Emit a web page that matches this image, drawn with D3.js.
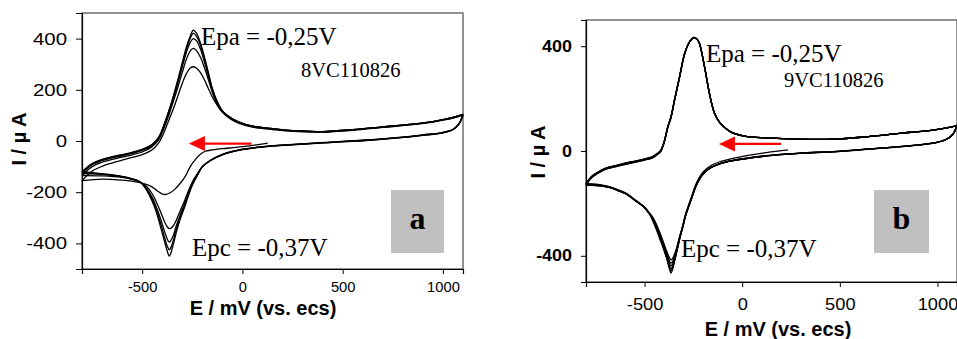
<!DOCTYPE html>
<html><head><meta charset="utf-8">
<script src="https://cdn.jsdelivr.net/npm/d3@7"></script>
<style>
html,body{margin:0;padding:0;background:#fff;}
svg{display:block;}
</style></head><body>
<svg id="chart" width="957" height="339"></svg>
<script>
// ---------- axes ----------
const xTicks = [-500, 0, 500, 1000];
const yTicksA = [-400, -200, 0, 200, 400];
const yTicksB = [-400, 0, 400];
const xTitle = "E / mV (vs. ecs)";
const yTitle = "I / \u00b5 A";

// ---------- panel a : 8VC110826 ----------
// potential grids (mV)
const aStartE = [126,50,0,-50,-100,-150,-185,-210,-235,-260,-285,-310,-335,-360,-385,-400,-418,-435,-451,-476,-510,-550,-600,-700,-800];
const aUpE = [-800,-750,-700,-650,-600,-550,-500,-450,-420,-400,-380,-360,-340,-320,-300,-280,-260,-245,-230,-210,-190,-170,-150,-130,-100,-60,-20,50,150,250,400,550,700,850,950,1050,1100];
const aDownE = [1100,1080,1050,1000,900,750,600,420,250,100,0,-100,-160,-200,-225,-250,-270,-290,-310,-330,-345,-358,-365,-375,-387,-405,-428,-450,-478,-510,-550,-600,-700,-800];
// currents (µA)
const aScan0 = [-8,-17,-22,-26,-30,-35,-40,-52,-73,-100,-138,-165,-187,-202,-209,-207,-198,-188,-179,-170,-163,-157,-153,-149,-155];
const aUp1 = [-155,-118,-99,-86,-75,-64,-53,-34,-10,18,55,95,135,180,225,262,285,290,285,268,240,205,172,145,112,86,70,54,45,38,35,42,53,64,74,89,101];
const aDown1 = [101,66,44,32,22,10,1,-7,-15,-24,-34,-54,-77,-100,-128,-160,-196,-236,-272,-310,-332,-341,-342,-335,-318,-283,-240,-206,-178,-160,-150,-142,-136,-135];
const aUp2 = [-135,-100,-83,-72,-63,-54,-43,-22,2,33,72,118,165,215,268,318,352,362,354,328,288,240,190,152,115,89,73,56,46,39,36,43,54,65,75,90,102];
const aDown2 = [102,67,45,33,23,11,2,-6,-14,-23,-33,-53,-76,-100,-132,-168,-206,-248,-288,-332,-370,-390,-395,-383,-357,-312,-260,-220,-185,-160,-149,-140,-130,-127];
const aUp3 = [-127,-93,-77,-66,-58,-48,-37,-17,7,40,82,128,178,232,290,345,385,400,392,360,310,255,198,158,117,91,74,58,48,40,37,44,55,66,76,92,104];
const aDown3 = [104,67,45,33,23,11,2,-6,-14,-23,-33,-53,-76,-101,-134,-172,-212,-256,-297,-345,-390,-418,-425,-410,-380,-330,-271,-228,-189,-160,-148,-139,-129,-122];
const aUp4 = [-122,-90,-74,-63,-55,-46,-35,-15,10,43,86,132,184,240,300,358,402,420,410,376,322,263,202,160,118,92,75,58,48,40,37,44,55,66,76,92,104];
const aDown4 = [104,68,46,34,24,12,3,-5,-13,-22,-32,-52,-75,-100,-135,-172,-215,-262,-305,-358,-405,-440,-450,-430,-397,-345,-281,-235,-192,-160,-148,-138,-128,-120];
const aUp5 = [-120,-88,-72,-61,-53,-44,-33,-13,12,45,88,135,188,245,305,365,410,433,422,385,330,268,205,162,118,92,75,58,48,40,37,44,55,66,76,92,104];

// ---------- panel b : 9VC110826 ----------
const bStartE = [234,124,-47,-118,-166,-200,-221,-240,-255,-268,-289,-303,-320,-336,-350,-358,-365,-372,-387,-405,-422,-439,-456,-475,-507,-544,-592,-630,-677,-715,-800];
const bUpE = [-800,-773,-749,-704,-636,-568,-500,-459,-435,-418,-400,-381,-365,-347,-321,-295,-270,-248,-230,-219,-193,-168,-142,-115,-90,-57,11,124,294,464,635,805,976,1040,1078,1100];
const bDownE = [1100,1078,1040,976,805,635,464,294,124,-47,-118,-166,-200,-221,-240,-255,-268,-289,-303,-320,-336,-350,-358,-365,-372,-387,-405,-422,-439,-456,-475,-507,-544,-592,-630,-677,-715,-800];
const bScan0 = [4,-6,-28,-42,-58,-80,-102,-132,-164,-192,-238,-280,-325,-370,-400,-412,-415,-408,-382,-345,-311,-281,-255,-236,-209,-189,-162,-150,-137,-130,-124];
const bUp1 = [-124,-98,-85,-66,-53,-41,-30,-21,-9,2,36,94,131,195,284,372,416,432,425,410,322,221,145,109,91,72,57,50,45,45,54,67,80,87,93,98];
const bDown1 = [98,63,43,30,17,7,-2,-8,-18,-36,-49,-65,-87,-109,-138,-170,-197,-241,-283,-328,-375,-410,-424,-428,-420,-392,-350,-316,-285,-258,-238,-210,-190,-163,-151,-138,-132,-126];
const bUp2 = [-126,-99,-86,-67,-54,-42,-31,-22,-10,1,35,93,130,194,283,372,416,433,425,410,321,220,144,108,90,72,57,50,45,45,54,67,80,87,93,98];
const bDown2 = [98,63,43,30,17,7,-2,-8,-18,-36,-49,-65,-87,-109,-138,-170,-198,-242,-284,-330,-380,-418,-434,-438,-430,-398,-355,-321,-289,-261,-239,-211,-191,-164,-152,-139,-133,-127];
const bUp3 = [-127,-100,-87,-68,-55,-43,-32,-23,-11,0,34,92,129,193,282,371,416,433,426,410,321,220,144,108,90,72,57,50,45,45,54,67,80,87,93,98];
const bDown3 = [98,63,43,30,17,7,-2,-9,-19,-37,-50,-66,-88,-110,-139,-171,-199,-243,-285,-332,-383,-425,-443,-448,-439,-403,-360,-326,-293,-264,-240,-211,-191,-164,-152,-139,-133,-128];
const bUp4 = [-128,-101,-88,-69,-56,-44,-33,-24,-12,-1,33,91,128,192,282,371,417,434,426,411,322,220,144,108,90,72,57,50,45,45,54,67,80,87,93,98];
const bDown4 = [98,63,43,30,17,7,-3,-9,-19,-37,-50,-66,-88,-110,-140,-172,-200,-244,-287,-334,-386,-428,-449,-457,-446,-407,-365,-331,-297,-267,-240,-212,-192,-165,-153,-140,-134,-129];
const bUp5 = [-129,-102,-89,-70,-57,-45,-34,-25,-13,-2,32,90,127,191,281,370,417,434,426,411,322,221,145,108,90,72,57,50,45,45,54,67,80,87,93,98];
const bDown5 = [98,62,42,29,16,6,-3,-9,-19,-37,-50,-66,-88,-110,-140,-172,-200,-245,-288,-335,-388,-432,-455,-466,-452,-410,-370,-336,-301,-270,-240,-212,-192,-165,-153,-140,-134,-130];
const bUp6 = [-130,-103,-90,-71,-58,-46,-35,-26,-14,-3,31,89,126,190,280,370,416,433,425,410,321,220,144,108,90,72,57,50,45,45,54,67,80,87,93,98];

// ---------- helpers ----------
const SANS = "'Liberation Sans', Arial, sans-serif";
const SERIF = "'Liberation Serif', 'Times New Roman', serif";
const svg = d3.select("#chart");
const plainNumber = d => String(d);   // ASCII hyphen for negatives

function stretch(sel, k) {
  sel.each(function () {
    const w = this.getComputedTextLength();
    d3.select(this).attr("textLength", w * k).attr("lengthAdjust", "spacingAndGlyphs");
  });
}

function drawPanel(p) {
  const x = d3.scaleLinear().domain([-800, 1100]).range([p.left, p.left + p.width]);
  const y = d3.scaleLinear().domain([-500, 500]).range([p.top + p.height, p.top]);
  const g = svg.append("g");

  // frame
  g.append("rect")
    .attr("x", p.left).attr("y", p.top)
    .attr("width", p.width).attr("height", p.height)
    .attr("fill", "none").attr("stroke", "#4a4a4a").attr("stroke-width", 1.2);

  // voltammogram sweeps
  const line = d3.line()
    .x(d => x(d[0])).y(d => y(d[1]))
    .curve(d3.curveCatmullRom.alpha(0.5));
  p.sweeps.forEach(s => {
    const pts = s.E.map((e, i) => [e, s.I[i]]);
    g.append("path").datum(pts)
      .attr("d", line)
      .attr("fill", "none").attr("stroke", "#000")
      .attr("stroke-width", p.lineWidth).attr("stroke-linejoin", "round");
  });

  // axes
  const ax = g.append("g").attr("transform", `translate(0,${p.top + p.height})`)
    .call(d3.axisBottom(x).tickValues(xTicks).tickSizeOuter(0)
      .tickSize(5).tickPadding(p.xPad).tickFormat(plainNumber));
  ax.select(".domain").attr("stroke", "#000").attr("stroke-width", 1.2);
  ax.selectAll(".tick line").attr("stroke", "#000").attr("stroke-width", 1);
  ax.selectAll("text").attr("font-family", SANS).attr("font-size", p.xFont)
    .attr("font-weight", p.xWeight).attr("fill", "#000");
  stretch(ax.selectAll("text"), p.xStretch);

  const ay = g.append("g").attr("transform", `translate(${p.left},0)`)
    .call(d3.axisLeft(y).tickValues(p.yTicks).tickSizeOuter(0)
      .tickSize(p.yTickSize).tickPadding(p.yPad).tickFormat(plainNumber));
  ay.select(".domain").attr("stroke", "#000").attr("stroke-width", 1.2);
  ay.selectAll(".tick line").attr("stroke", "#000").attr("stroke-width", 1);
  ay.selectAll("text").attr("font-family", SANS).attr("font-size", p.yFont)
    .attr("font-weight", p.yWeight).attr("fill", "#000");
  stretch(ay.selectAll("text"), p.yStretch);

  // axis titles
  g.append("text").text(xTitle)
    .attr("x", p.xTitleX).attr("y", p.xTitleY)
    .attr("text-anchor", "middle").attr("font-family", SANS)
    .attr("font-size", 20).attr("font-weight", "bold");
  g.append("text").text(yTitle)
    .attr("transform", `translate(${p.yTitleX},${p.yTitleY}) rotate(-90)`)
    .attr("text-anchor", "middle").attr("font-family", SANS)
    .attr("font-size", 20).attr("font-weight", "bold");

  // peak annotations and file code
  const ann = (t, px, py, size) => g.append("text").text(t)
    .attr("x", px).attr("y", py).attr("font-family", SERIF)
    .attr("font-size", size).attr("fill", "#000");
  ann("Epa = -0,25V", p.epa[0], p.epa[1], 25);
  ann(p.code, p.codePos[0], p.codePos[1], 20.5);
  ann("Epc = -0,37V", p.epc[0], p.epc[1], 25);

  // panel letter
  g.append("rect").attr("x", p.box[0]).attr("y", p.box[1])
    .attr("width", p.box[2]).attr("height", p.box[3]).attr("fill", "#c0c0c0");
  g.append("text").text(p.letter)
    .attr("x", p.box[0] + p.box[2] / 2).attr("y", p.box[1] + 39)
    .attr("text-anchor", "middle").attr("font-family", SERIF)
    .attr("font-size", 32).attr("font-weight", "bold");

  // scan direction arrow
  const x0 = x(p.arrow[0]), x1 = x(p.arrow[1]), ya = y(p.arrow[2]);
  g.append("line").attr("x1", x0).attr("x2", x1 + 14).attr("y1", ya).attr("y2", ya)
    .attr("stroke", "#ff0000").attr("stroke-width", 2.2);
  g.append("path")
    .attr("d", `M${x1},${ya} L${x1 + 16},${ya - 7.5} L${x1 + 16},${ya + 7.5} Z`)
    .attr("fill", "#ff0000");
}

const seq = (list) => list.map(([E, I]) => ({ E, I }));

drawPanel({
  left: 82, top: 13, width: 381, height: 256,
  yTicks: yTicksA, yTickSize: 6, yPad: 9, yFont: 17, yWeight: "normal", yStretch: 1.2,
  xPad: 8, xFont: 14, xWeight: "normal", xStretch: 1.05,
  xTitleX: 263, xTitleY: 315, yTitleX: 26, yTitleY: 139,
  lineWidth: 1.3,
  sweeps: seq([[aStartE, aScan0], [aUpE, aUp1], [aDownE, aDown1], [aUpE, aUp2], [aDownE, aDown2],
               [aUpE, aUp3], [aDownE, aDown3], [aUpE, aUp4], [aDownE, aDown4], [aUpE, aUp5]]),
  epa: [201, 45], epc: [192, 256], code: "8VC110826", codePos: [301, 77],
  box: [391, 190, 53, 63], letter: "a",
  arrow: [45, -267, -10]
});

drawPanel({
  left: 586, top: 20, width: 371, height: 262,
  yTicks: yTicksB, yTickSize: 5, yPad: 9, yFont: 16, yWeight: "bold", yStretch: 1.12,
  xPad: 12, xFont: 16, xWeight: "normal", xStretch: 1.14,
  xTitleX: 778, xTitleY: 336, yTitleX: 545, yTitleY: 152,
  lineWidth: 1.3,
  sweeps: seq([[bStartE, bScan0], [bUpE, bUp1], [bDownE, bDown1], [bUpE, bUp2], [bDownE, bDown2],
               [bUpE, bUp3], [bDownE, bDown3], [bUpE, bUp4], [bDownE, bDown4], [bUpE, bUp5],
               [bDownE, bDown5], [bUpE, bUp6]]),
  epa: [706, 62], epc: [681, 257], code: "9VC110826", codePos: [784, 87],
  box: [874, 190, 55, 63], letter: "b",
  arrow: [199, -119, 27]
});
</script>
</body></html>
